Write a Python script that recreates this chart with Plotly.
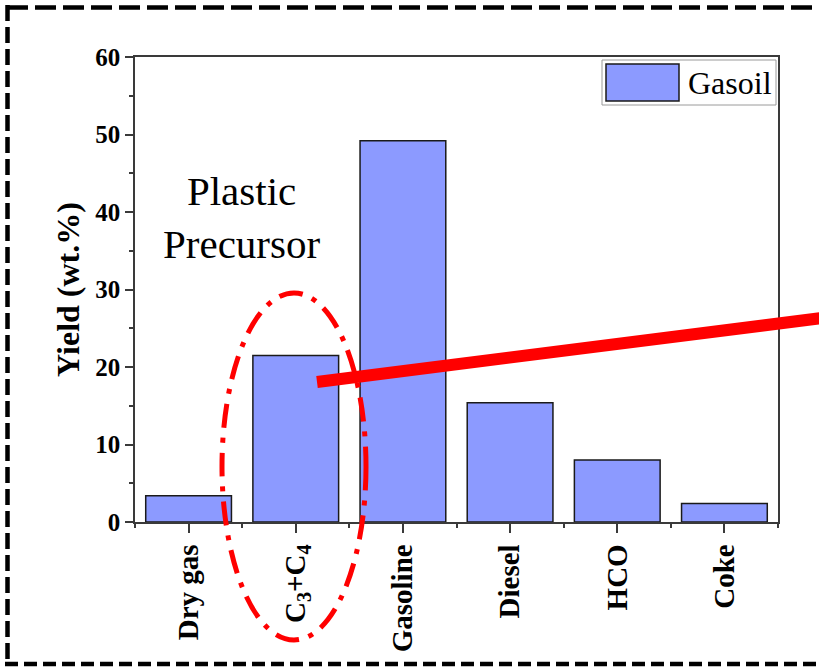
import plotly.graph_objects as go

# Product yields from gasoil cracking (wt.%)
categories = ["Dry gas", "C<sub>3</sub>+C<sub>4</sub>", "Gasoline", "Diesel", "HCO", "Coke"]
gasoil_yield = [3.4, 21.5, 49.2, 15.4, 8.0, 2.4]
y_ticks = [0, 10, 20, 30, 40, 50, 60]

W, H = 819, 667
ML, MR, MT, MB = 135, 41, 57, 145
PW, PH = W - ML - MR, H - MT - MB

BAR_FILL = "#8C9AFF"
AXIS_COLOR = "#3a3a3a"
SERIF = '"Times New Roman", "Liberation Serif", Times, serif'


def px(x):
    """Canvas pixel x -> paper coordinate."""
    return (x - ML) / PW


def py(y):
    """Canvas pixel y -> paper coordinate."""
    return (H - MB - y) / PH


x_pos = list(range(len(categories)))

fig = go.Figure()
fig.add_trace(go.Bar(
    x=x_pos, y=gasoil_yield, name="Gasoil", width=0.8,
    marker=dict(color=BAR_FILL, line=dict(color="#1a1a1a", width=1.5)),
    showlegend=False,
))

shapes = []

# dashed frame around the whole figure
frame = dict(type="line", xref="paper", yref="paper", layer="above")
shapes.append({**frame, "x0": px(7), "y0": py(7.5), "x1": px(830), "y1": py(7.5),
               "line": dict(color="black", width=4.5, dash="21px,7px")})
shapes.append({**frame, "x0": px(7.5), "y0": py(5), "x1": px(7.5), "y1": py(664),
               "line": dict(color="black", width=4.5, dash="16px,6px")})
shapes.append({**frame, "x0": px(5), "y0": py(664), "x1": px(830), "y1": py(664),
               "line": dict(color="black", width=4.5, dash="13px,6px")})

# legend box
shapes.append(dict(type="rect", xref="paper", yref="paper",
                   x0=px(602), y0=py(60), x1=px(776), y1=py(105),
                   line=dict(color="#9a9a9a", width=1), fillcolor="white", layer="above"))
shapes.append(dict(type="rect", xref="paper", yref="paper",
                   x0=px(606), y0=py(64), x1=px(679), y1=py(101),
                   line=dict(color="#1a1a1a", width=1.5), fillcolor=BAR_FILL, layer="above"))

# dash-dot ellipse around the C3+C4 group
shapes.append(dict(type="circle", xref="paper", yref="paper",
                   x0=px(222), y0=py(293), x1=px(366), y1=py(640),
                   line=dict(color="#FF0000", width=5, dash="24px,10px,5px,10px"),
                   layer="above"))

# thick red pointer line
shapes.append(dict(type="line", xref="paper", yref="paper",
                   x0=px(317), y0=py(382), x1=px(830), y1=py(317),
                   line=dict(color="#FF0000", width=12), layer="above"))

annotations = [
    dict(text="Plastic<br>Precursor", xref="paper", yref="paper",
         x=px(241), y=py(218), xanchor="center", yanchor="middle", showarrow=False,
         font=dict(family=SERIF, size=41, color="black")),
    dict(text="Gasoil", xref="paper", yref="paper",
         x=px(686), y=py(83), xanchor="left", yanchor="middle", showarrow=False,
         font=dict(family=SERIF, size=32, color="black")),
]

fig.update_layout(
    width=W, height=H,
    margin=dict(l=ML, r=MR, t=MT, b=MB, pad=0),
    paper_bgcolor="white", plot_bgcolor="white",
    shapes=shapes, annotations=annotations,
    font=dict(family=SERIF, color="black"),
)

fig.update_xaxes(
    range=[-0.5, len(categories) - 0.5],
    tickmode="array", tickvals=x_pos, ticktext=["<b>%s</b>" % c for c in categories],
    tickangle=-90, tickfont=dict(family=SERIF, size=29, color="black"),
    ticks="outside", ticklen=9, tickwidth=1.5, tickcolor=AXIS_COLOR,
    minor=dict(tickvals=[i - 0.5 for i in range(len(categories) + 1)],
               ticks="outside", ticklen=4, tickwidth=1.5, tickcolor=AXIS_COLOR),
    showline=True, linecolor=AXIS_COLOR, linewidth=1.5, mirror=True,
    showgrid=False, zeroline=False,
)

fig.update_yaxes(
    range=[0, 60], tickmode="array", tickvals=y_ticks,
    ticktext=["<b>%d</b>" % v for v in y_ticks],
    tickfont=dict(family=SERIF, size=25, color="black"),
    ticks="outside", ticklen=8, tickwidth=1.5, tickcolor=AXIS_COLOR,
    minor=dict(dtick=5, ticks="outside", ticklen=4, tickwidth=1.5, tickcolor=AXIS_COLOR),
    showline=True, linecolor=AXIS_COLOR, linewidth=1.5, mirror=True,
    showgrid=False, zeroline=False,
    title=dict(text="<b>Yield (wt.%)</b>", standoff=6,
               font=dict(family=SERIF, size=32, color="black")),
)

fig.write_html("out.html")
